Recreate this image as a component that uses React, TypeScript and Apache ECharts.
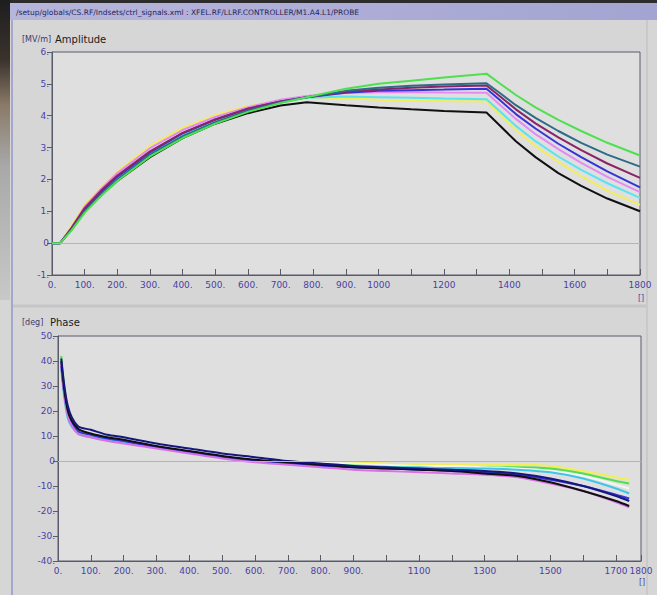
import React, { useEffect, useRef } from "react";
import * as echarts from "echarts";

// ---- Amplitude panel data ----
const ampTime = [0, 25, 60, 100, 150, 200, 300, 400, 500, 600, 700, 780, 900, 1000, 1100, 1200, 1330, 1370, 1420, 1480, 1550, 1620, 1700, 1800];
const ampBlack = [0, 0, 0.45, 1.0, 1.5, 1.95, 2.7, 3.3, 3.75, 4.08, 4.32, 4.42, 4.33, 4.26, 4.2, 4.15, 4.1, 3.7, 3.2, 2.7, 2.2, 1.8, 1.4, 1.0];
const ampYellow = [0, 0, 0.55, 1.2, 1.75, 2.25, 3.05, 3.62, 4.02, 4.3, 4.48, 4.58, 4.55, 4.5, 4.48, 4.46, 4.45, 4.05, 3.55, 3.05, 2.55, 2.1, 1.65, 1.2];
const ampCyan = [0, 0, 0.45, 1.05, 1.6, 2.05, 2.82, 3.4, 3.84, 4.18, 4.42, 4.56, 4.6, 4.58, 4.56, 4.54, 4.52, 4.15, 3.68, 3.2, 2.72, 2.3, 1.88, 1.42];
const ampPink = [0, 0, 0.5, 1.15, 1.7, 2.2, 2.98, 3.55, 3.96, 4.27, 4.5, 4.62, 4.72, 4.74, 4.74, 4.73, 4.72, 4.35, 3.9, 3.42, 2.95, 2.52, 2.08, 1.6];
const ampBlue = [0, 0, 0.45, 1.05, 1.6, 2.08, 2.85, 3.45, 3.88, 4.22, 4.45, 4.58, 4.72, 4.78, 4.8, 4.82, 4.85, 4.5, 4.05, 3.6, 3.12, 2.7, 2.25, 1.75];
const ampMaroon = [0, 0, 0.48, 1.1, 1.65, 2.12, 2.88, 3.46, 3.88, 4.22, 4.45, 4.58, 4.75, 4.82, 4.88, 4.92, 4.95, 4.62, 4.2, 3.76, 3.32, 2.92, 2.5, 2.05];
const ampTeal = [0, 0, 0.42, 1.0, 1.52, 2.0, 2.78, 3.36, 3.8, 4.16, 4.42, 4.58, 4.78, 4.88, 4.94, 4.98, 5.02, 4.72, 4.33, 3.93, 3.52, 3.15, 2.78, 2.4];
const ampGreen = [0, 0, 0.4, 0.95, 1.48, 1.95, 2.72, 3.3, 3.75, 4.12, 4.4, 4.58, 4.85, 5.0, 5.1, 5.2, 5.32, 5.02, 4.65, 4.26, 3.87, 3.52, 3.15, 2.75];

// ---- Phase panel data ----
const phTime = [10, 30, 60, 100, 150, 200, 300, 400, 500, 600, 700, 800, 900, 1000, 1100, 1200, 1300, 1400, 1500, 1600, 1700, 1740];
const phYellow = [36, 18, 12, 10.5, 9, 8, 6, 4, 2.5, 1, 0, -0.5, -0.5, -1, -1.5, -1.5, -1.5, -1.5, -2, -4, -6.5, -7.5];
const phGreen = [42, 21, 12, 10, 9, 8, 6, 4, 2, 0.5, -0.5, -1, -1.5, -2, -2, -2.5, -2.5, -2.5, -3, -5, -8, -9];
const phWhite = [37, 18, 12, 10.5, 9.5, 8.5, 6.5, 4.5, 2.5, 1, 0, -0.5, -1, -1.5, -2, -2, -2.5, -3, -4, -6, -9.5, -11];
const phCyan = [37, 17, 11, 9.5, 8.5, 7.5, 5.5, 3.5, 1.5, 0, -1, -1.5, -2, -2.5, -2.5, -3, -3, -3.5, -4.5, -7, -11, -13];
const phBlue = [38, 19, 12, 10.5, 9, 8, 5.5, 3.5, 1.5, 0, -1, -2, -2.5, -3, -3.5, -4, -4.5, -5.5, -7.5, -10, -13.5, -15];
const phPink = [39, 18, 11, 9.5, 8, 7, 5, 3, 1, -0.5, -1.5, -2.5, -3.5, -4, -4.5, -5, -5.5, -6.5, -9, -12, -16.5, -18.5];
const phBlack = [40, 20, 13, 11, 9.5, 8.5, 6, 4, 2, 0.5, -0.5, -1.5, -2.5, -3, -3.5, -4, -5, -6, -8.5, -12, -16, -18];
const phNavy = [41, 22, 14, 12.5, 10.5, 9.5, 7, 5, 3, 1.5, 0, -1, -2, -2.5, -3, -3.5, -4, -5, -7, -10, -14, -16];

const ampSeries = [
  { name: "black", color: "#101010", data: ampBlack },
  { name: "yellow", color: "#f2ee5a", data: ampYellow },
  { name: "cyan", color: "#58e4f0", data: ampCyan },
  { name: "pink", color: "#e48af2", data: ampPink },
  { name: "blue", color: "#3434d8", data: ampBlue },
  { name: "maroon", color: "#8a2466", data: ampMaroon },
  { name: "teal", color: "#2a6e86", data: ampTeal },
  { name: "green", color: "#4ee04e", data: ampGreen },
];

const phSeries = [
  { name: "yellow", color: "#f2ee5a", data: phYellow },
  { name: "green", color: "#4ee04e", data: phGreen },
  { name: "white", color: "#f4f4f4", data: phWhite },
  { name: "cyan", color: "#3ec6e6", data: phCyan },
  { name: "blue", color: "#3434d8", data: phBlue },
  { name: "pink", color: "#d870e8", data: phPink },
  { name: "black", color: "#101010", data: phBlack },
  { name: "navy", color: "#16167e", data: phNavy },
];

const AMP_X_MAX = 1800;
const PH_X_MAX = 1776;

const labelColor = "#4a3fa6";
const axisColor = "#5a5a6a";

export default function App() {
  const ref = useRef<HTMLDivElement>(null);
  useEffect(() => {
    if (!ref.current) return;
    const chart = echarts.init(ref.current, undefined, { renderer: "svg" });

    const zeroLine = {
      silent: true,
      symbol: "none",
      label: { show: false },
      lineStyle: { color: "#b4b4b4", width: 1, type: "solid" },
      data: [{ yAxis: 0 }],
    };

    const lineSeries: any[] = [];
    ampSeries.forEach((s, i) => {
      lineSeries.push({
        type: "line",
        name: "amp " + s.name,
        xAxisIndex: 0,
        yAxisIndex: 0,
        showSymbol: false,
        symbol: "none",
        lineStyle: { color: s.color, width: 2 },
        itemStyle: { color: s.color },
        data: ampTime.map((t, k) => [t, s.data[k]]),
        markLine: i === 0 ? zeroLine : undefined,
      });
    });
    phSeries.forEach((s, i) => {
      lineSeries.push({
        type: "line",
        name: "phase " + s.name,
        xAxisIndex: 1,
        yAxisIndex: 1,
        showSymbol: false,
        symbol: "none",
        smooth: 0.3,
        lineStyle: { color: s.color, width: 2 },
        itemStyle: { color: s.color },
        data: phTime.map((t, k) => [t, s.data[k]]),
        markLine: i === 0 ? zeroLine : undefined,
      });
    });

    const xLabelStyle = {
      color: labelColor,
      fontSize: 9,
      fontFamily: "DejaVu Sans",
      margin: 5,
    };
    const yLabelStyle = {
      color: labelColor,
      fontSize: 9,
      fontFamily: "DejaVu Sans",
      margin: 3,
    };

    chart.setOption({
      animation: false,
      backgroundColor: "#d6d6d6",
      grid: [
        {
          left: 52,
          right: 17,
          top: 52,
          height: 223,
          show: true,
          backgroundColor: "#dfdfdf",
          borderColor: axisColor,
          borderWidth: 1,
        },
        {
          left: 58,
          right: 16,
          top: 336,
          height: 225,
          show: true,
          backgroundColor: "#dfdfdf",
          borderColor: axisColor,
          borderWidth: 1,
        },
      ],
      xAxis: [
        {
          type: "value",
          gridIndex: 0,
          min: 0,
          max: AMP_X_MAX,
          interval: 100,
          axisLine: { show: true, onZero: false, lineStyle: { color: axisColor } },
          axisTick: { show: true, inside: true, length: 6, lineStyle: { color: axisColor } },
          splitLine: { show: false },
          axisLabel: {
            ...xLabelStyle,
            showMaxLabel: true,
            formatter: (v: number) => {
              if (v < 1000) return v + ".";
              if (v % 200 === 0) return String(v);
              return "";
            },
          },
        },
        {
          type: "value",
          gridIndex: 1,
          min: 0,
          max: PH_X_MAX,
          interval: 100,
          axisLine: { show: true, onZero: false, lineStyle: { color: axisColor } },
          axisTick: { show: true, inside: true, length: 6, lineStyle: { color: axisColor } },
          splitLine: { show: false },
          axisLabel: {
            ...xLabelStyle,
            showMaxLabel: true,
            formatter: (v: number) => {
              if (v === PH_X_MAX) return "1800";
              if (v < 1000) return v + ".";
              if (v % 200 === 100) return String(v);
              return "";
            },
          },
        },
      ],
      yAxis: [
        {
          type: "value",
          gridIndex: 0,
          min: -1,
          max: 6,
          interval: 1,
          axisLine: { show: true, onZero: false, lineStyle: { color: axisColor } },
          axisTick: { show: true, length: 5, lineStyle: { color: axisColor } },
          splitLine: { show: false },
          axisLabel: {
            ...yLabelStyle,
            formatter: (v: number) => (v === 0 ? "0" : v + "."),
          },
        },
        {
          type: "value",
          gridIndex: 1,
          min: -40,
          max: 50,
          interval: 10,
          axisLine: { show: true, onZero: false, lineStyle: { color: axisColor } },
          axisTick: { show: true, length: 5, lineStyle: { color: axisColor } },
          splitLine: { show: false },
          axisLabel: {
            ...yLabelStyle,
            formatter: (v: number) => (v === 0 ? "0" : v + "."),
          },
        },
      ],
      graphic: [
        {
          type: "rect",
          shape: { x: 0, y: 0, width: 657, height: 3 },
          style: { fill: "#2c2c2c" },
        },
        {
          type: "rect",
          shape: { x: 0, y: 0, width: 10, height: 300 },
          style: {
            fill: new echarts.graphic.LinearGradient(0, 0, 0, 1, [
              { offset: 0, color: "#1e1e1e" },
              { offset: 0.2, color: "#3a332c" },
              { offset: 0.35, color: "#8a7a68" },
              { offset: 0.55, color: "#a8a8a8" },
              { offset: 1, color: "#c8c8c8" },
            ]),
          },
        },
        {
          type: "rect",
          shape: { x: 10, y: 3, width: 647, height: 17 },
          style: {
            fill: new echarts.graphic.LinearGradient(0, 0, 1, 0, [
              { offset: 0, color: "#b6b6dc" },
              { offset: 1, color: "#a4a4d2" },
            ]),
          },
        },
        {
          type: "text",
          x: 16,
          y: 12,
          style: {
            text: "/setup/globals/CS.RF/Indsets/ctrl_signals.xml : XFEL.RF/LLRF.CONTROLLER/M1.A4.L1/PROBE",
            fontSize: 7.5,
            fontFamily: "DejaVu Sans",
            fill: "#26265a",
            verticalAlign: "middle",
          },
        },
        {
          type: "line",
          shape: { x1: 12, y1: 20, x2: 12, y2: 595 },
          style: { stroke: "#a6a6cc", lineWidth: 2 },
        },
        {
          type: "line",
          shape: { x1: 647, y1: 20, x2: 647, y2: 595 },
          style: { stroke: "#bcbcbc", lineWidth: 1 },
        },
        {
          type: "line",
          shape: { x1: 13, y1: 306, x2: 646, y2: 306 },
          style: { stroke: "#c6c6c6", lineWidth: 3 },
        },
        {
          type: "text",
          x: 22,
          y: 39,
          style: { text: "[MV/m]", fontSize: 8, fontFamily: "DejaVu Sans", fill: "#3a3a6a", verticalAlign: "middle" },
        },
        {
          type: "text",
          x: 55,
          y: 39,
          style: { text: "Amplitude", fontSize: 10, fontFamily: "DejaVu Sans", fill: "#1a1a1a", verticalAlign: "middle" },
        },
        {
          type: "text",
          x: 22,
          y: 322,
          style: { text: "[deg]", fontSize: 8, fontFamily: "DejaVu Sans", fill: "#3a3a6a", verticalAlign: "middle" },
        },
        {
          type: "text",
          x: 50,
          y: 322,
          style: { text: "Phase", fontSize: 10, fontFamily: "DejaVu Sans", fill: "#1a1a1a", verticalAlign: "middle" },
        },
        {
          type: "text",
          x: 641,
          y: 298,
          style: { text: "[]", fontSize: 8, fontFamily: "DejaVu Sans", fill: labelColor, align: "center", verticalAlign: "middle" },
        },
        {
          type: "text",
          x: 642,
          y: 582,
          style: { text: "[]", fontSize: 8, fontFamily: "DejaVu Sans", fill: labelColor, align: "center", verticalAlign: "middle" },
        },
      ],
      series: lineSeries,
    });

    return () => chart.dispose();
  }, []);

  return (
    <div
      ref={ref}
      style={{ position: "fixed", left: 0, top: 0, width: 657, height: 595 }}
    />
  );
}
